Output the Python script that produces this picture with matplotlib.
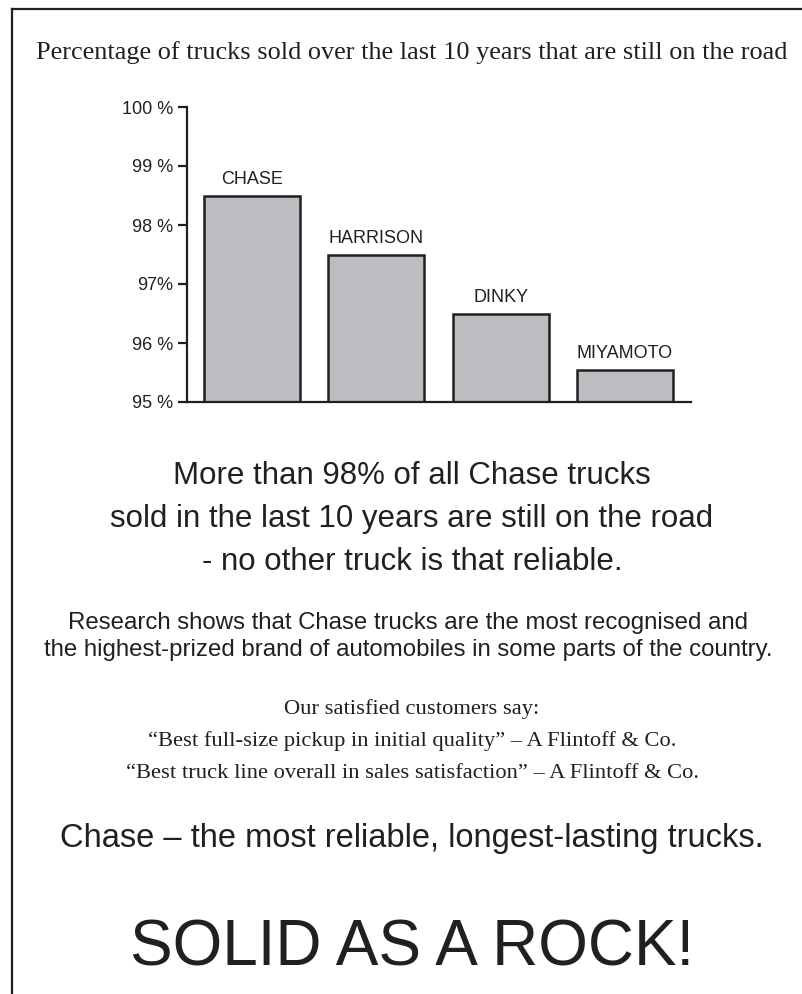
import matplotlib
matplotlib.use('Agg')
import matplotlib.pyplot as plt
from matplotlib.lines import Line2D

# data
brands = ['CHASE', 'HARRISON', 'DINKY', 'MIYAMOTO']
still_on_road = [98.5, 97.5, 96.5, 95.55]
y_ticks = [95, 96, 97, 98, 99, 100]
y_tick_labels = ['95 %', '96 %', '97%', '98 %', '99 %', '100 %']

title = 'Percentage of trucks sold over the last 10 years that are still on the road'
headline = ['More than 98% of all Chase trucks',
            'sold in the last 10 years are still on the road',
            '- no other truck is that reliable.']
research = ['Research shows that Chase trucks are the most recognised and',
            'the highest-prized brand of automobiles in some parts of the country.']
quotes = ['Our satisfied customers say:',
          '\u201cBest full-size pickup in initial quality\u201d \u2013 A Flintoff & Co.',
          '\u201cBest truck line overall in sales satisfaction\u201d \u2013 A Flintoff & Co.']
tagline = 'Chase \u2013 the most reliable, longest-lasting trucks.'
slogan = 'SOLID AS A ROCK!'

INK = '#231f20'
BAR = '#bcbdc1'
W, H = 802, 994
SANS = ['Liberation Sans', 'DejaVu Sans']
SERIF = ['Liberation Serif', 'DejaVu Serif']

fig = plt.figure(figsize=(W / 100, H / 100), dpi=100)

def fy(py):
    return 1 - py / H

# page frame (top + left edge only, rest is cropped)
fig.add_artist(Line2D([11.5 / W, 1], [fy(8.5), fy(8.5)], color=INK, lw=1.6))
fig.add_artist(Line2D([12 / W, 12 / W], [fy(8.5), 0], color=INK, lw=1.6))

# chart
ax = fig.add_axes([187 / W, fy(402), (691 - 187) / W, (402 - 107) / H])
x = range(len(brands))
ax.bar(x, [v - 95 for v in still_on_road], bottom=95, width=0.772,
       color=BAR, edgecolor=INK, linewidth=1.8)
for i, (name, v) in enumerate(zip(brands, still_on_road)):
    ax.annotate(name, (i, v), xytext=(0, 8), textcoords='offset points',
                ha='center', va='baseline', fontsize=13, family=SANS, color=INK)

ax.set_xlim(-0.523, 3.531)
ax.set_ylim(95, 100)
ax.set_yticks(y_ticks)
ax.set_yticklabels(y_tick_labels, family=SANS, fontsize=13, color=INK)
ax.set_xticks([])
ax.tick_params(axis='y', direction='out', length=6.5, width=1.6, pad=3.5, color=INK)
for s in ['top', 'right']:
    ax.spines[s].set_visible(False)
for s in ['left', 'bottom']:
    ax.spines[s].set_linewidth(1.6)
    ax.spines[s].set_color(INK)
ax.patch.set_alpha(0)

CX = 412 / W

fig.text(CX, fy(59), title, ha='center', va='baseline', family=SERIF,
         fontsize=18.9, color=INK)

for line, base in zip(headline, [484, 527, 570]):
    fig.text(CX, fy(base), line, ha='center', va='baseline', family=SANS,
             fontsize=22.5, color=INK)

for line, base in zip(research, [629, 656]):
    fig.text(408 / W, fy(base), line, ha='center', va='baseline', family=SANS,
             fontsize=17.3, color=INK)

for line, base in zip(quotes, [714, 746, 778]):
    fig.text(CX, fy(base), line, ha='center', va='baseline', family=SERIF,
             fontsize=16.2, color=INK)

fig.text(CX, fy(847), tagline, ha='center', va='baseline', family=SANS,
         fontsize=23.5, color=INK)

fig.text(CX, fy(965), slogan, ha='center', va='baseline', family=SANS,
         fontsize=46, color=INK)

fig.savefig('out.png', dpi=100)
